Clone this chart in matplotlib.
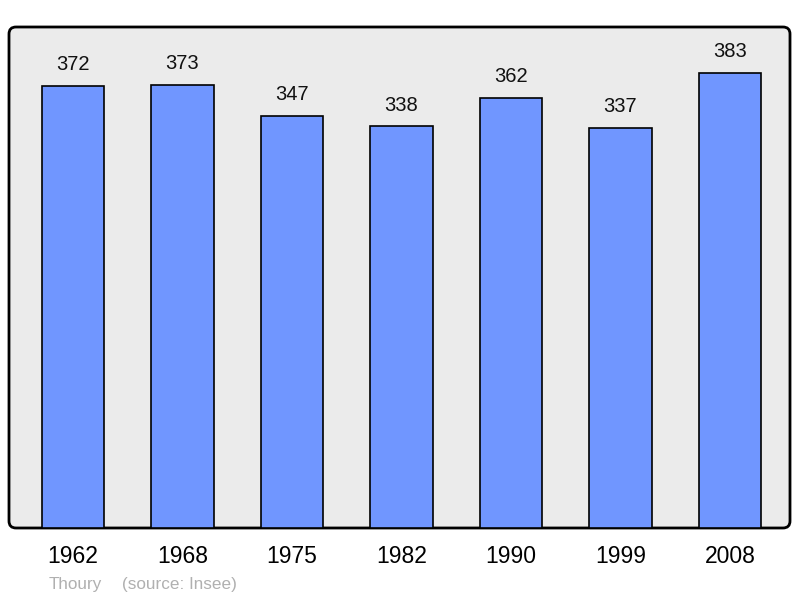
import matplotlib.pyplot as plt
from matplotlib.patches import FancyBboxPatch

years = ['1962', '1968', '1975', '1982', '1990', '1999', '2008']
population = [372, 373, 347, 338, 362, 337, 383]

plt.rcParams['font.family'] = ['Liberation Sans', 'DejaVu Sans']

fig = plt.figure(figsize=(8, 5.98), dpi=100)
ax = fig.add_axes([9 / 800, 70 / 598, 781 / 800, 501 / 598])
ax.set_facecolor('none')

# grey rounded frame behind the axes
frame = FancyBboxPatch((0.09, 0.70), 7.81, 5.01, boxstyle='round,pad=0,rounding_size=0.07',
                       transform=fig.dpi_scale_trans, facecolor='#ebebeb',
                       edgecolor='black', linewidth=2, zorder=0)
fig.add_artist(frame)

x = list(range(len(years)))
ax.bar(x, population, width=0.57, color='#7096ff', edgecolor='black', linewidth=1.2, zorder=2)
for xi, v in zip(x, population):
    ax.annotate(str(v), (xi, v), xytext=(0, 8.5), textcoords='offset points',
                ha='center', va='bottom', fontsize=14.5, color='#111111')

ax.set_xlim(-0.584, 6.548)
ax.set_ylim(0, 421.7)
ax.set_xticks(x)
ax.set_xticklabels(years, fontsize=16.5)
ax.tick_params(axis='x', length=0, pad=12.5)
ax.set_yticks([])
for s in ax.spines.values():
    s.set_visible(False)

fig.text(49 / 800, 1 - 584 / 598, 'Thoury', color='#b0b0b0', fontsize=12.3, va='center')
fig.text(122 / 800, 1 - 584 / 598, '(source: Insee)', color='#b0b0b0', fontsize=12.3, va='center')

fig.savefig('out.png', dpi=100)
